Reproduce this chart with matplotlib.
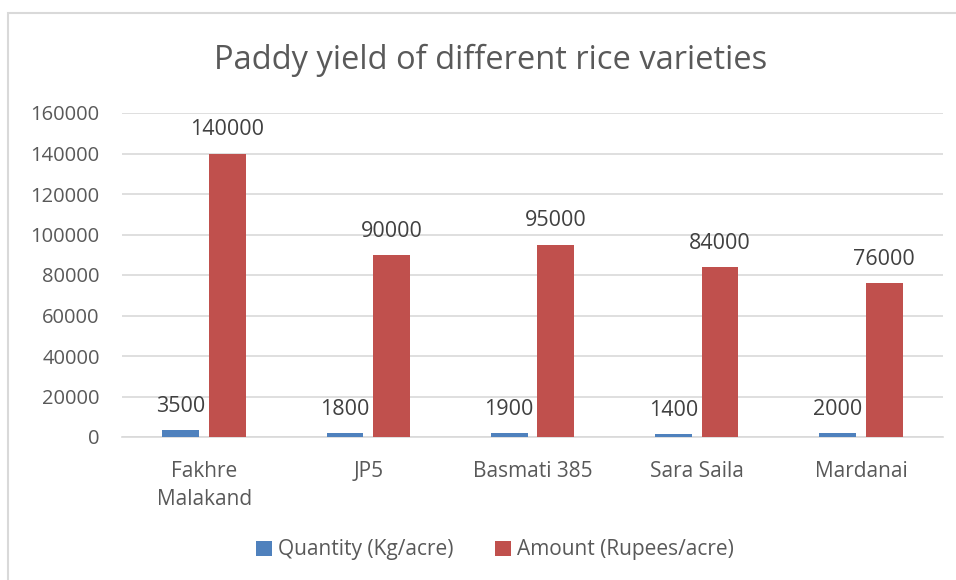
import matplotlib
matplotlib.use("Agg")
import matplotlib.pyplot as plt
from matplotlib.patches import Rectangle
import numpy as np

categories = ["Fakhre\nMalakand", "JP5", "Basmati 385", "Sara Saila", "Mardanai"]
quantity = [3500, 1800, 1900, 1400, 2000]
amount = [140000, 90000, 95000, 84000, 76000]
series_names = ["Quantity (Kg/acre)", "Amount (Rupees/acre)"]
yticks = [0, 20000, 40000, 60000, 80000, 100000, 120000, 140000, 160000]

plt.rcParams['font.family'] = ['Open Sans', 'DejaVu Sans']
W, H = 956, 580
fig = plt.figure(figsize=(W/100, H/100), dpi=100)

# chart border
fig.patches.append(Rectangle((8/W, -0.1), 1.2, 1 - 13/H + 0.1, transform=fig.transFigure,
                             fill=False, edgecolor='#d9d9d9', linewidth=1.5))

left, right, top, bottom = 122, 943, 113, 437
ax = fig.add_axes([left/W, 1 - bottom/H, (right-left)/W, (bottom-top)/H])

x = np.arange(len(categories))
bw = 0.225
off = 0.142
b1 = ax.bar(x - off, quantity, bw, color='#4f81bd', label=series_names[0], zorder=3)
b2 = ax.bar(x + off, amount, bw, color='#c0504d', label=series_names[1], zorder=3)

txtc = '#404040'
for bars, vals in ((b1, quantity), (b2, amount)):
    for rect, v in zip(bars, vals):
        ax.text(rect.get_x() + rect.get_width()/2, v + 6500, f"{v}", ha='center', va='bottom',
                fontsize=15.5, color=txtc)

ax.set_xlim(-0.5, len(categories) - 0.5)
ax.set_ylim(0, 160000)
ax.set_yticks(yticks)
ax.set_yticklabels([str(t) for t in yticks], fontsize=14.5, color='#595959')
ax.set_xticks(x)
ax.set_xticklabels(categories, fontsize=15, color='#595959', linespacing=1.45)
ax.tick_params(axis='y', length=0, pad=16)
ax.tick_params(axis='x', length=0, pad=17)
ax.grid(axis='y', color='#d9d9d9', linewidth=1.2, zorder=0)
for s in ['top', 'right', 'left']:
    ax.spines[s].set_visible(False)
ax.spines['bottom'].set_color('#d9d9d9')
ax.spines['bottom'].set_linewidth(1.2)

fig.text(491/W, 1 - 60/H, "Paddy yield of different rice varieties", ha='center', va='center',
         fontsize=23.5, color='#595959')

fig.legend(handles=[b1, b2], labels=series_names, loc='center', bbox_to_anchor=(495/W, 1 - 550/H),
           ncol=2, frameon=False, fontsize=15, handlelength=0.75, handleheight=0.75,
           handletextpad=0.3, columnspacing=2.0, labelcolor='#595959')

fig.savefig("out.png", dpi=100)
